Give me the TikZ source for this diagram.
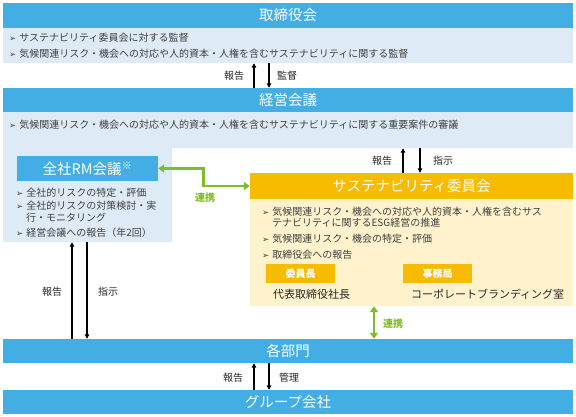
\documentclass[tikz,border=0pt]{standalone}
\usepackage{fontspec}
\setmainfont{Noto Sans CJK JP}
\newfontfamily\dejavu{DejaVu Sans}
\usepackage{xcolor}
\usepackage{tikz}
\usetikzlibrary{arrows.meta,positioning,calc}
\definecolor{bar-blue}{HTML}{43AEE4}
\definecolor{pale-blue}{HTML}{DEEBF7}
\definecolor{sus-orange}{HTML}{F7BB00}
\definecolor{pale-yellow}{HTML}{FFF2CC}
\definecolor{link-green}{HTML}{80BC26}
\definecolor{body-gray}{HTML}{404040}
\newcommand\bul{{\dejavu\fontsize{8.5}{8.5}\selectfont ➢}\hspace{3pt}}

\begin{document}
\begin{tikzpicture}[x=1pt, y=-1pt,
    bar/.style = {shape=rectangle, fill=bar-blue, text=white, inner sep=0pt,
        minimum height=25pt, minimum width=570pt, font=\fontsize{14.5}{14.5}\selectfont},
    note/.style = {shape=rectangle, fill=pale-blue, inner sep=0pt,
        minimum width=570pt},
    tag/.style = {shape=rectangle, fill=sus-orange, text=white, inner sep=0pt,
        minimum height=19pt, minimum width=69pt, font=\bfseries\fontsize{10}{10}\selectfont},
    items/.style = {anchor=north west, inner sep=0pt, align=left, text=body-gray},
    person/.style = {anchor=west, inner sep=0pt, text=black!85, font=\fontsize{11}{11}\selectfont},
    lbl/.style = {text=black!85, font=\fontsize{10}{10}\selectfont},
    post/.style = {-{Triangle[length=4.5pt,width=4.5pt]}, line width=1.3pt},
    link/.style = {{Triangle[length=6pt,width=8pt]}-{Triangle[length=6pt,width=8pt]},
        line width=2.6pt, link-green}]

  \useasboundingbox (0,0) rectangle (576,416);

  % board
  \node [bar] (board) at (288,15.5) {取締役会};
  \node [note, minimum height=35pt] (board-note) at (288,45.5) {};
  \node [items, font=\fontsize{10}{12}\selectfont] (board-items) at (9,33)
    {\bul サステナビリティ委員会に対する監督\\[3.5pt]
     \bul 気候関連リスク・機会への対応や人的資本・人権を含むサステナビリティに関する監督};

  % management meeting
  \node [bar, minimum height=24pt] (mgmt) at (288,100) {経営会議};
  \node [note, minimum height=36pt] (mgmt-note) at (288,130) {};
  \node [note, minimum width=169pt, minimum height=94pt] (rm-col) at (87.5,195) {};
  \node [items, anchor=west, font=\fontsize{10}{12}\selectfont] (mgmt-items) at (9,125)
    {\bul 気候関連リスク・機会への対応や人的資本・人権を含むサステナビリティに関する重要案件の審議};

  % RM meeting
  \node [bar, minimum width=141pt] (rm) at (87.5,168.5) {全社RM会議\textsuperscript{※}};
  \node [items, font=\fontsize{10}{12}\selectfont] (rm-items) at (16,188)
    {\bul 全社的リスクの特定・評価\\[0.5pt]
     \bul 全社的リスクの対策検討・実\\
     \hspace*{10pt}行・モニタリング\\[3pt]
     \bul 経営会議への報告（年2回）};

  % sustainability committee
  \node [bar, fill=sus-orange, minimum width=323pt, minimum height=26pt] (sus) at (411.5,186)
    {サステナビリティ委員会};
  \node [note, fill=pale-yellow, minimum width=323pt, minimum height=107pt] (sus-note)
    at (411.5,252.5) {};
  \node [items, font=\fontsize{10}{11}\selectfont] (sus-items) at (262,207)
    {\bul 気候関連リスク・機会への対応や人的資本・人権を含むサス\\
     \hspace*{10pt}テナビリティに関するESG経営の推進\\[5pt]
     \bul 気候関連リスク・機会の特定・評価\\[5pt]
     \bul 取締役会への報告};
  \node [tag] (chair) at (300.5,273.5) {委員長};
  \node [tag] (office) at (437.5,273.5) {事務局};
  \node [person] (chair-name) at ([xshift=7pt,yshift=-11pt]chair.south west) {代表取締役社長};
  \node [person] (office-name) at ([xshift=8pt,yshift=-11pt]office.south west)
    {コーポレートブランディング室};

  % departments and group companies
  \node [bar, minimum height=24pt] (depts) at (288,351) {各部門};
  \node [bar, minimum height=24pt] (group) at (288,402) {グループ会社};

  \coordinate (rm-up) at (72,0);
  \coordinate (rm-down) at (87,0);
  \coordinate (link-x) at (374,0);

  % report / supervise
  \draw [post] ([xshift=-34pt]mgmt.north) -- ([xshift=-34pt]board-note.south);
  \draw [post] ([xshift=-19pt]board-note.south) -- ([xshift=-19pt]mgmt.north);
  \node [lbl] (board-rep) at (234,76) {報告};
  \node [lbl] (board-sup) at (287,76) {監督};

  \draw [post] ([xshift=-8.5pt]sus.north) -- ([xshift=-8.5pt]sus.north |- mgmt-note.south);
  \draw [post] ([xshift=8.5pt]sus.north |- mgmt-note.south) -- ([xshift=8.5pt]sus.north);
  \node [lbl] (sus-rep) at (382,161) {報告};
  \node [lbl] (sus-ins) at (443,161) {指示};

  \draw [post] (depts.north -| rm-up) -- (rm-col.south -| rm-up);
  \draw [post] (rm-col.south -| rm-down) -- (depts.north -| rm-down);
  \node [lbl] (rm-rep) at (52,292) {報告};
  \node [lbl] (rm-ins) at (108,292) {指示};

  \draw [post] ([xshift=-34pt]group.north) -- ([xshift=-34pt]depts.south);
  \draw [post] ([xshift=-19pt]depts.south) -- ([xshift=-19pt]group.north);
  \node [lbl] (grp-rep) at (233,378) {報告};
  \node [lbl] (grp-man) at (289,378) {管理};

  % cooperation
  \draw [link] (rm.east) -- ++(45,0) |- (sus.west);
  \node [lbl, text=link-green, font=\bfseries\fontsize{10}{10}\selectfont] (rm-link) at (205,198) {連携};
  \draw [link] (sus-note.south -| link-x) -- (depts.north -| link-x);
  \node [lbl, text=link-green, font=\bfseries\fontsize{10}{10}\selectfont] (dept-link) at (393,324) {連携};
\end{tikzpicture}
\end{document}
